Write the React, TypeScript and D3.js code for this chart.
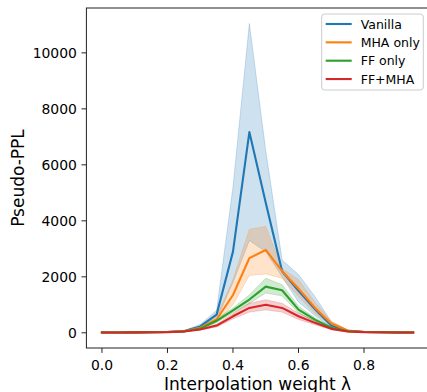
import React from "react";
import * as d3 from "d3";

const xs = [0, 0.05, 0.1, 0.15, 0.2, 0.25, 0.3, 0.35, 0.4, 0.45, 0.5, 0.55, 0.6, 0.65, 0.7, 0.75, 0.8, 0.85, 0.9, 0.95];

const vanillaMean = [12, 13, 15, 20, 30, 60, 230, 650, 2900, 7170, 4650, 2200, 1500, 850, 260, 70, 30, 20, 15, 12];
const vanillaLo = [10, 11, 12, 16, 24, 45, 170, 460, 1800, 3300, 2900, 2000, 1100, 620, 190, 50, 24, 16, 12, 10];
const vanillaHi = [14, 15, 18, 24, 36, 80, 300, 800, 5200, 11050, 6500, 2600, 2080, 1300, 400, 100, 38, 25, 18, 14];

const mhaMean = [12, 13, 15, 20, 28, 55, 180, 475, 1350, 2670, 2960, 2200, 1580, 900, 330, 80, 30, 20, 15, 12];
const mhaLo = [10, 11, 12, 16, 22, 42, 140, 380, 1000, 2050, 2100, 1950, 1300, 700, 260, 60, 24, 16, 12, 10];
const mhaHi = [14, 15, 18, 24, 34, 70, 230, 600, 1900, 3700, 3800, 2300, 1900, 1100, 420, 100, 38, 25, 18, 14];

const ffMean = [12, 13, 15, 19, 27, 50, 150, 430, 800, 1190, 1650, 1520, 830, 470, 180, 60, 28, 20, 15, 12];
const ffLo = [10, 11, 12, 16, 22, 40, 120, 370, 720, 1050, 1420, 1320, 720, 400, 150, 48, 22, 16, 12, 10];
const ffHi = [14, 15, 18, 22, 32, 60, 180, 500, 890, 1350, 1950, 1720, 950, 540, 210, 72, 34, 24, 18, 14];

const bothMean = [12, 13, 15, 18, 25, 45, 120, 260, 590, 890, 1000, 890, 590, 356, 142, 50, 26, 18, 14, 12];
const bothLo = [10, 11, 12, 15, 20, 36, 100, 210, 500, 740, 820, 740, 480, 290, 115, 40, 21, 15, 11, 10];
const bothHi = [14, 15, 18, 21, 30, 54, 140, 310, 680, 1050, 1180, 1050, 700, 420, 170, 60, 31, 21, 17, 14];

const seriesNames = ["Vanilla", "MHA only", "FF only", "FF+MHA"];
const seriesColors = ["#1f77b4", "#ff7f0e", "#2ca02c", "#d62728"];
const xTicks = [0, 0.2, 0.4, 0.6, 0.8];
const yTicks = [0, 2000, 4000, 6000, 8000, 10000];

const series = [
  { name: seriesNames[0], color: seriesColors[0], mean: vanillaMean, lo: vanillaLo, hi: vanillaHi },
  { name: seriesNames[1], color: seriesColors[1], mean: mhaMean, lo: mhaLo, hi: mhaHi },
  { name: seriesNames[2], color: seriesColors[2], mean: ffMean, lo: ffLo, hi: ffHi },
  { name: seriesNames[3], color: seriesColors[3], mean: bothMean, lo: bothLo, hi: bothHi },
];

const W = 427;
const H = 392;
const left = 86.4;
const right = 428.7;
const top = 8;
const bottom = 348;
const font = "DejaVu Sans, sans-serif";

export default function App() {
  const xMin = d3.min(xs)!;
  const xMax = d3.max(xs)!;
  const xPad = (xMax - xMin) * 0.05;
  const x = d3.scaleLinear().domain([xMin - xPad, xMax + xPad]).range([left, right]);

  const allLo = d3.min(series.flatMap((s) => s.lo))!;
  const allHi = d3.max(series.flatMap((s) => s.hi))!;
  const yPad = (allHi - allLo) * 0.05;
  const y = d3.scaleLinear().domain([allLo - yPad, allHi + yPad]).range([bottom, top]);

  const area = (s: typeof series[0]) =>
    d3
      .area<number>()
      .x((_, i) => x(xs[i]))
      .y0((_, i) => y(s.lo[i]))
      .y1((_, i) => y(s.hi[i]))(s.mean)!;
  const line = (s: typeof series[0]) =>
    d3
      .line<number>()
      .x((_, i) => x(xs[i]))
      .y((d) => y(d))(s.mean)!;

  return (
    <svg width={W} height={H} style={{ position: "absolute", left: 0, top: 0, background: "#fff" }} fontFamily={font}>
      <defs>
        <clipPath id="plot">
          <rect x={left} y={top} width={right - left} height={bottom - top} />
        </clipPath>
      </defs>
      <g clipPath="url(#plot)">
        {series.map((s) => (
          <path key={"a" + s.name} d={area(s)} fill={s.color} fillOpacity={0.22} stroke={s.color} strokeOpacity={0.22} strokeWidth={1} />
        ))}
        {series.map((s) => (
          <path key={"l" + s.name} d={line(s)} fill="none" stroke={s.color} strokeWidth={2.1} strokeLinejoin="round" strokeLinecap="square" />
        ))}
      </g>
      {/* spines */}
      <rect x={left} y={top} width={right - left} height={bottom - top} fill="none" stroke="#222" strokeWidth={1} />
      {/* x ticks */}
      {xTicks.map((t) => (
        <g key={"x" + t}>
          <line x1={x(t)} x2={x(t)} y1={bottom} y2={bottom + 4.9} stroke="#222" strokeWidth={1} />
          <text x={x(t)} y={369.5} textAnchor="middle" fontSize={13.9} fill="#000">
            {t.toFixed(1)}
          </text>
        </g>
      ))}
      {yTicks.map((t) => (
        <g key={"y" + t}>
          <line x1={left - 4.9} x2={left} y1={y(t)} y2={y(t)} stroke="#222" strokeWidth={1} />
          <text x={left - 9.5} y={y(t) + 5} textAnchor="end" fontSize={13.9} fill="#000">
            {t}
          </text>
        </g>
      ))}
      <text x={(left + right) / 2} y={389.5} textAnchor="middle" fontSize={17} fill="#000">
        Interpolation weight λ
      </text>
      <text transform={`translate(24, ${(top + bottom) / 2}) rotate(-90)`} textAnchor="middle" fontSize={17} fill="#000">
        Pseudo-PPL
      </text>
      {/* legend */}
      <rect x={321.7} y={14} width={101.6} height={76} rx={3} fill="#fff" fillOpacity={0.8} stroke="#ccc" strokeWidth={1} />
      {series.map((s, i) => (
        <g key={"lg" + s.name}>
          <line x1={325.7} x2={351.7} y1={24 + i * 18.35} y2={24 + i * 18.35} stroke={s.color} strokeWidth={2.1} />
          <text x={360.7} y={24 + i * 18.35 + 4.5} fontSize={12.5} fill="#000">
            {s.name}
          </text>
        </g>
      ))}
    </svg>
  );
}
